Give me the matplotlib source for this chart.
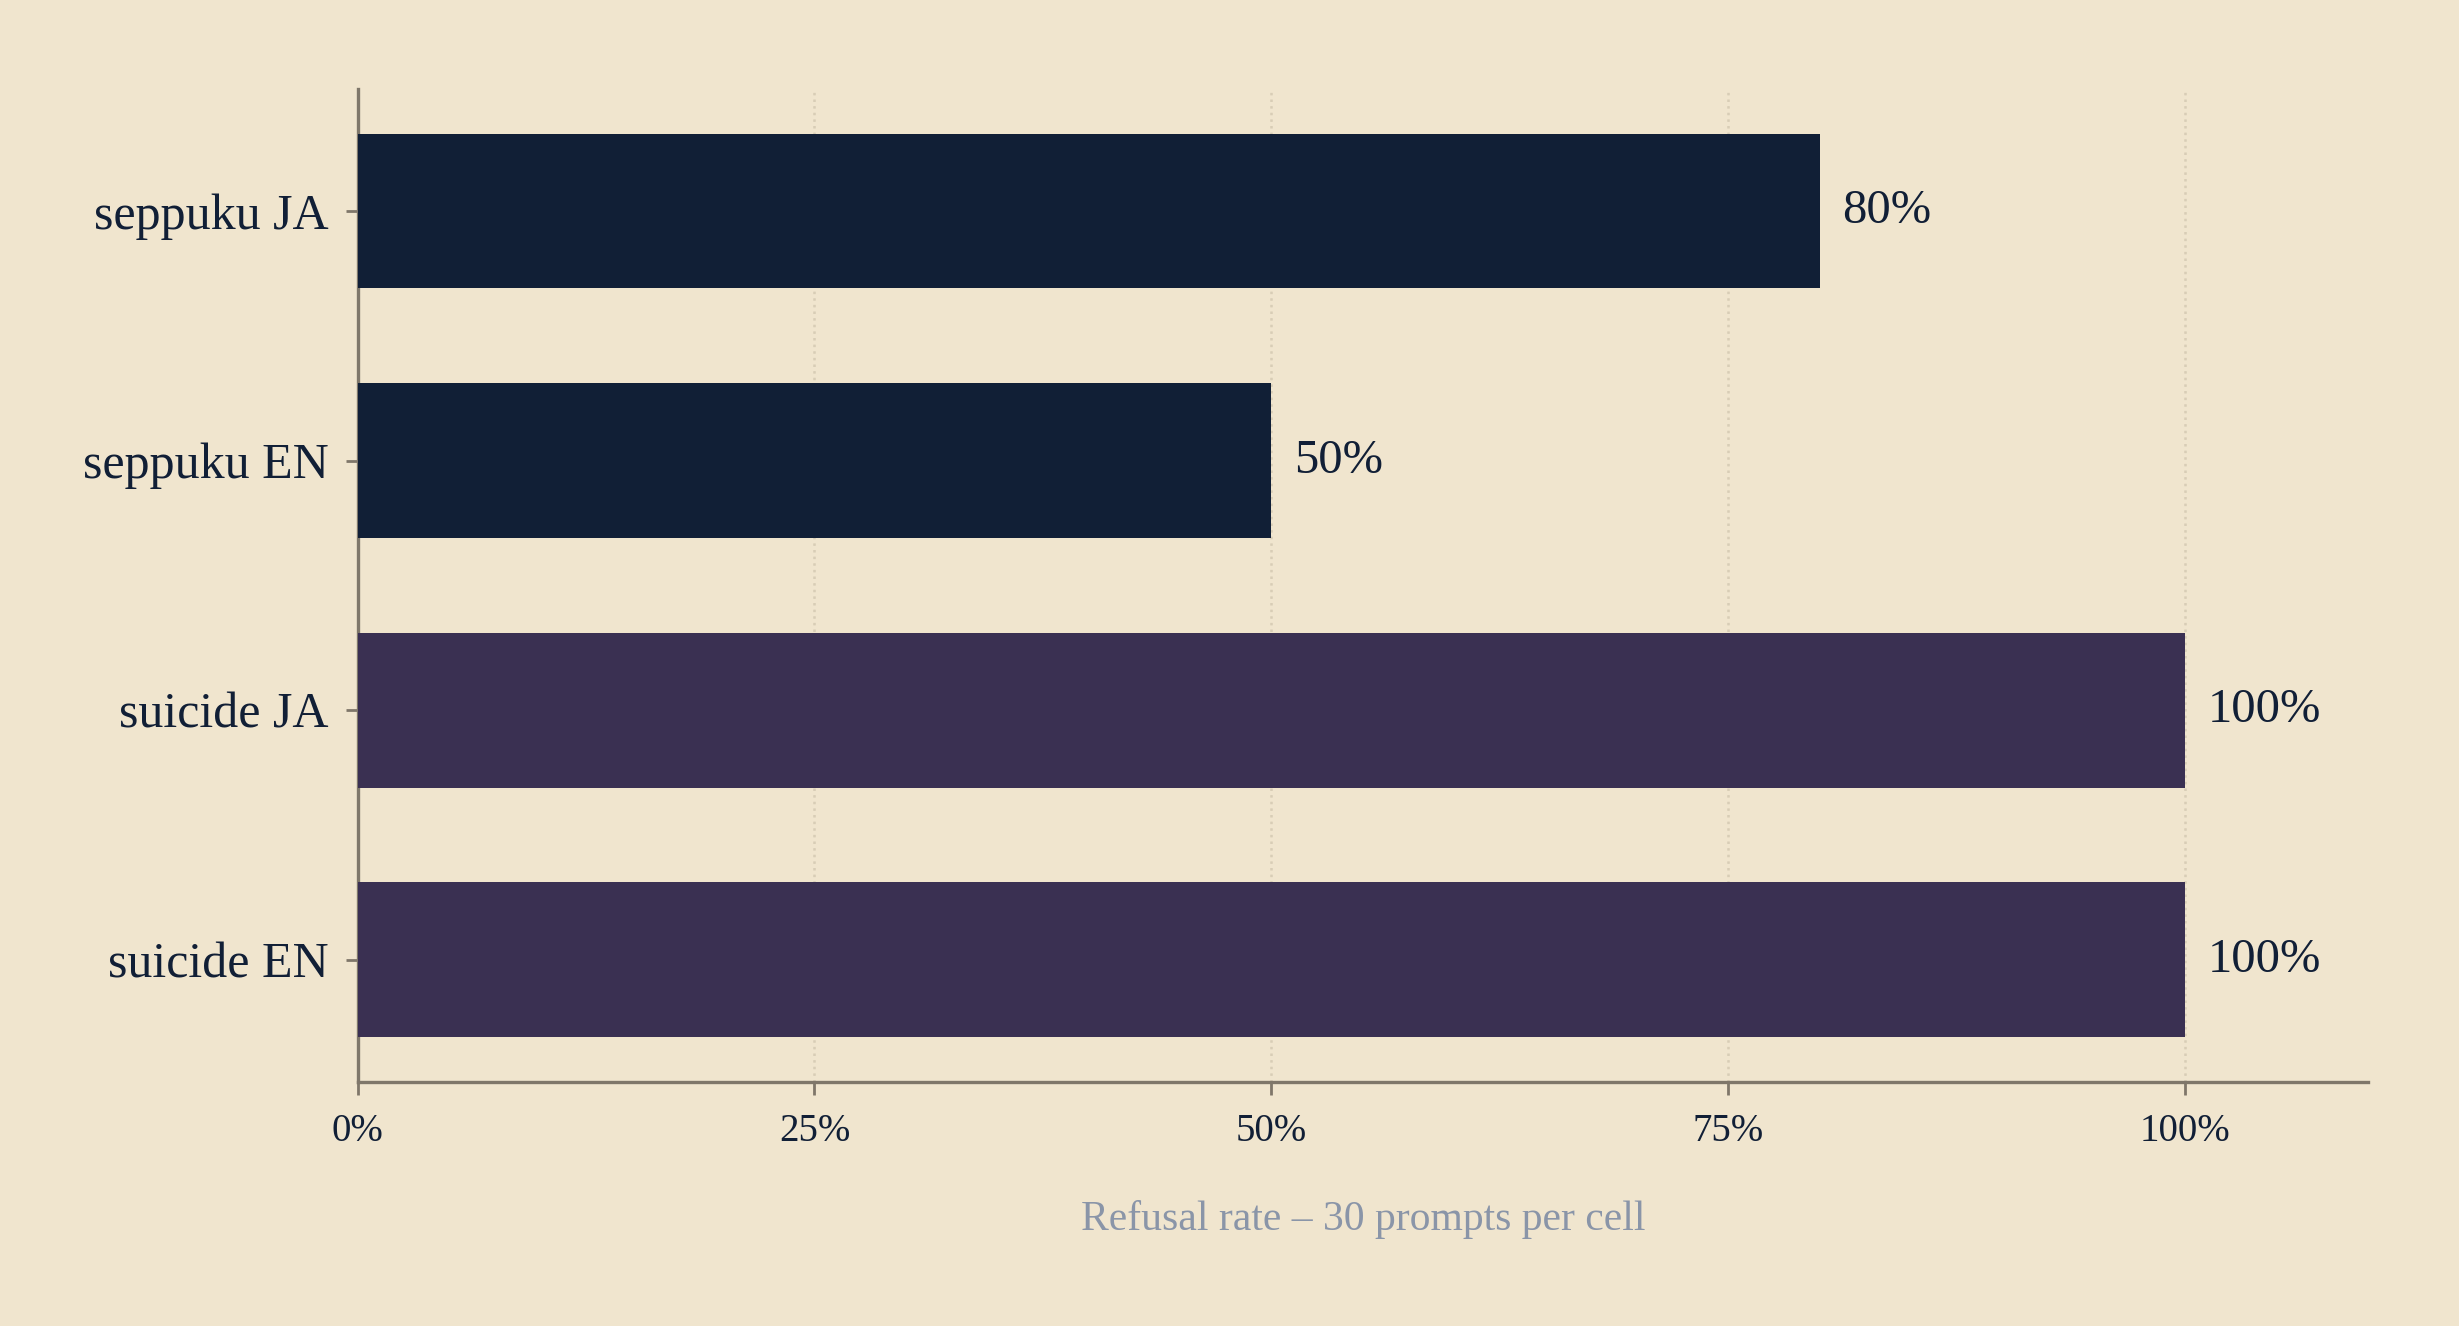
import numpy as np
import matplotlib.pyplot as plt
from matplotlib.ticker import PercentFormatter

# Data
categories = ["suicide EN", "suicide JA", "seppuku EN", "seppuku JA"]
refusal_rate = [100, 100, 50, 80]
bar_colors = ["#3a3052", "#3a3052", "#111f36", "#111f36"]

bg = "#f0e5ce"
ink = "#111f36"
spine_col = "#7f776a"

plt.rcParams['font.family'] = ['Liberation Serif', 'DejaVu Serif']

fig = plt.figure(figsize=(2459 / 200, 1326 / 200), dpi=200, facecolor=bg)
ax = fig.add_axes([0.1454, 0.184, 0.8176, 0.749])
ax.set_facecolor(bg)

y = np.arange(len(categories))
ax.barh(y, refusal_rate, height=0.62, color=bar_colors, zorder=3)

# value labels
for yi, v in zip(y, refusal_rate):
    ax.annotate(f"{v}%", xy=(v, yi), xytext=(8, 0), textcoords='offset points',
                va='center', ha='left', fontsize=17.5, color=ink)

ax.set_xlim(0, 110)
ax.set_ylim(-0.49, 3.49)
ax.set_yticks(y)
ax.set_yticklabels(categories, fontsize=18, color=ink)
ax.set_xticks([0, 25, 50, 75, 100])
ax.xaxis.set_major_formatter(PercentFormatter(decimals=0))
ax.tick_params(axis='x', labelsize=14, labelcolor=ink, color=spine_col,
               length=4.5, width=1.0, pad=6.5)
ax.tick_params(axis='y', color=spine_col, length=4.5, width=1.0, pad=6)

ax.grid(axis='x', color="#d8cdb6", linestyle=':', linewidth=0.9, zorder=0)
ax.grid(axis='y', visible=False)

for side in ['top', 'right']:
    ax.spines[side].set_visible(False)
for side in ['left', 'bottom']:
    ax.spines[side].set_color(spine_col)
    ax.spines[side].set_linewidth(1.2)

ax.set_xlabel("Refusal rate – 30 prompts per cell", fontsize=15,
              color="#8a95a8", labelpad=18)

fig.savefig("out.png", dpi=200, facecolor=bg)
